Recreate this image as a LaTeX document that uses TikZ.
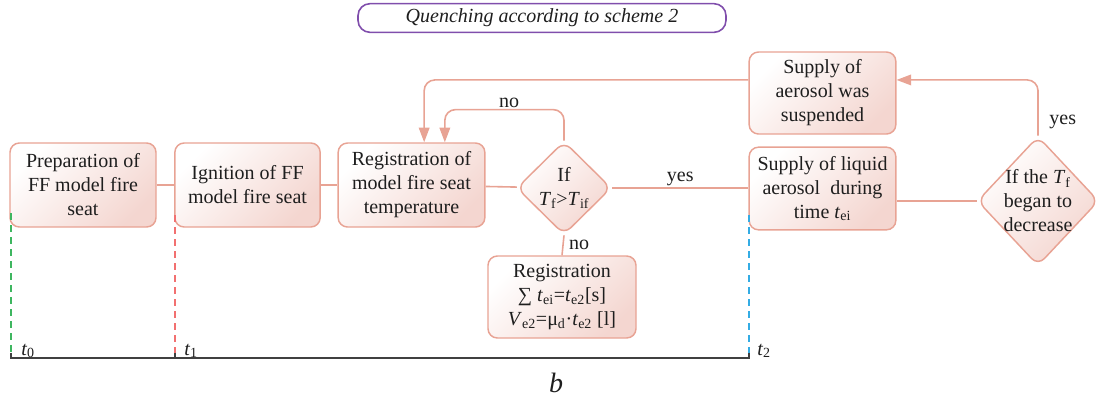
\documentclass[tikz,border=0pt]{standalone}
\usepackage{fontspec}
\setmainfont{Liberation Serif}
\usetikzlibrary{positioning,arrows.meta,shapes.geometric}
\definecolor{qSalmon}{RGB}{232,163,148}
\definecolor{qPink}{RGB}{244,214,208}
\definecolor{qPurple}{RGB}{128,78,172}
\definecolor{qGreen}{RGB}{62,182,96}
\definecolor{qRed}{RGB}{242,112,112}
\definecolor{qBlue}{RGB}{52,172,228}
\definecolor{qInk}{RGB}{30,30,30}

\begin{document}
\begin{tikzpicture}[
    x=0.75pt, y=-0.75pt,
    text=qInk,
    font=\fontsize{15}{18}\selectfont,
    stage node/.style={rectangle, rounded corners=7pt, draw=qSalmon, line width=1.1pt, top color=white, bottom color=qPink, shading angle=45, align=center, inner sep=2pt},
    decision node/.style={diamond, aspect=1, rounded corners=7pt, draw=qSalmon, line width=1.1pt, top color=white, bottom color=qPink, shading angle=45, align=center, inner sep=-6pt},
    flow line/.style={draw=qSalmon, line width=1.2pt, rounded corners=8pt},
    flow arrow/.style={flow line, -{Triangle[length=11pt,width=8pt]}},
    branch note/.style={inner sep=1pt},
    time mark/.style={dash pattern=on 5pt off 4pt, line width=1.1pt}
]
  \useasboundingbox (0,0) rectangle (1100,401);

  \node[draw=qPurple, line width=1.2pt, rounded corners=9pt, minimum width=276pt, minimum height=21.5pt, font=\fontsize{15}{18}\selectfont\itshape] (title) at (542,18) {Quenching according to scheme 2};

  % main line of stages
  \node[stage node, minimum width=109.5pt, minimum height=63pt] (prep) at (83,185) {Preparation of\\FF model fire\\seat};
  \node[stage node, minimum width=109pt, minimum height=63pt] (ignite) at (247.5,185) {Ignition of FF\\model fire seat};
  \node[stage node, minimum width=110pt, minimum height=63pt] (regtemp) at (411.5,185) {Registration of\\model fire seat\\temperature};
  \node[decision node, minimum width=71pt, minimum height=70pt] (ifhot) at (564,188) {If\\\textit{T}\textsubscript{f}>\textit{T}\textsubscript{if}};
  \node[stage node, minimum width=111pt, minimum height=61.5pt] (regsum) at (562,297) {Registration\\∑ \textit{t}\textsubscript{ei}=\textit{t}\textsubscript{e2}[s]\\\textit{V}\textsubscript{e2}=μ\textsubscript{d}·\textit{t}\textsubscript{e2} [l]};
  \node[stage node, minimum width=110pt, minimum height=62pt] (supply) at (822.5,188.5) {Supply of liquid\\aerosol\ \ during\\time \textit{t}\textsubscript{ei}};
  \node[stage node, minimum width=110pt, minimum height=61.5pt] (stopped) at (822.5,93) {Supply of\\aerosol was\\suspended};
  \node[decision node, minimum width=91pt, minimum height=97pt] (ifcool) at (1038,201) {If the \textit{T}\textsubscript{f}\\began to\\decrease};

  \draw[flow line] (prep) -- (ignite);
  \draw[flow line] (ignite) -- (regtemp);
  \draw[flow line] (regtemp) -- (ifhot);
  \draw[flow line] (ifhot.east) -- node[branch note, above] {yes} (ifhot.east -| supply.west);
  \draw[flow line] (ifhot.south) -- node[branch note, right=3pt] {no} (regsum.north);
  \draw[flow arrow] (ifhot.north) -- ++(0,-31) -| node[branch note, above, pos=0.23] {no} ([xshift=25pt]regtemp.north);
  \draw[flow arrow] (stopped.170) -| ([xshift=9.5pt]regtemp.north);
  \draw[flow line] (ifcool.west) -- (ifcool.west -| supply.east);
  \draw[flow arrow] (ifcool.north) |- node[branch note, right=7pt, pos=0.12] {yes} (stopped.10);

  % time axis
  \coordinate (t0) at (11,358);
  \coordinate (t1) at (175,358);
  \coordinate (t2) at (749,358);
  \draw[time mark, qGreen] (11,213) -- (11,353);
  \draw[time mark, qRed] (175,215) -- (175,353);
  \draw[time mark, qBlue] (749,215) -- (749,353);
  \draw[qInk!85, line width=1.2pt] (t0) -- (t2);
  \foreach \tk in {t0,t1,t2}
    \draw[qInk!85, line width=1pt] ([yshift=4pt]\tk) -- ([yshift=-1pt]\tk);
  \node[anchor=base west, inner sep=0pt] (t0lab) at (21,355) {\textit{t}\textsubscript{0}};
  \node[anchor=base west, inner sep=0pt] (t1lab) at (184,355) {\textit{t}\textsubscript{1}};
  \node[anchor=base west, inner sep=0pt] (t2lab) at (757,355) {\textit{t}\textsubscript{2}};
  \node[font=\fontsize{21}{24}\selectfont\itshape] (caption) at (556,383) {b};
\end{tikzpicture}
\end{document}
